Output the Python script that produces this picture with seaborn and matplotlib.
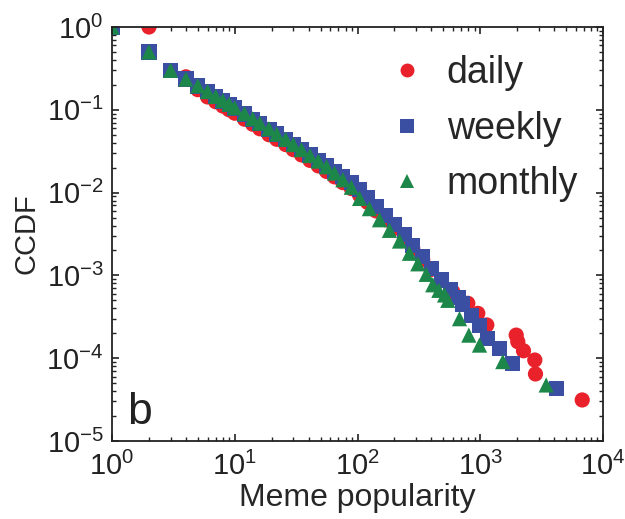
import matplotlib
matplotlib.use("Agg")
import matplotlib.pyplot as plt
from matplotlib.lines import Line2D
import pandas as pd
import seaborn as sns

# Complementary cumulative distribution of meme popularity
daily_x = [1, 2, 4, 5, 6, 7, 8, 9, 10, 12, 14, 16, 19, 22, 26, 30, 35, 41, 48,
           56, 65, 76, 89, 104, 121, 142, 169, 200, 241, 282, 340, 398, 481,
           597, 792, 955, 1131, 1963, 2023, 2250, 2782, 2818, 6770]
daily_y = [1.0, 1.0, 0.25, 0.175, 0.143, 0.125, 0.111, 0.100, 0.091, 0.077,
           0.067, 0.059, 0.050, 0.044, 0.038, 0.033, 0.0285, 0.0245, 0.021,
           0.018, 0.0155, 0.0132, 0.0112, 0.0093, 0.0076, 0.0060, 0.0047,
           0.0037, 0.0028, 0.0021, 0.00155, 0.00118, 0.00088, 0.000635,
           0.00046, 0.000348, 0.000252, 0.00019, 0.000158, 0.000123,
           0.000095, 0.0000645, 0.0000313]

weekly_x = [1, 2, 3, 4, 5, 6, 7, 8, 9, 10, 12, 14, 16, 19, 22, 26, 30, 35, 41,
            48, 56, 65, 76, 89, 104, 121, 142, 169, 200, 241, 282, 340, 398,
            481, 570, 668, 721, 844, 986, 1153, 1435, 1841, 4155]
weekly_y = [1.0, 0.50, 0.30, 0.235, 0.194, 0.165, 0.144, 0.128, 0.116, 0.105,
            0.089, 0.077, 0.068, 0.058, 0.051, 0.044, 0.038, 0.033, 0.0285,
            0.0245, 0.021, 0.018, 0.0155, 0.0131, 0.0108, 0.0087, 0.0068,
            0.0053, 0.0041, 0.0031, 0.0023, 0.00168, 0.00122, 0.00088,
            0.00068, 0.00054, 0.00045, 0.00033, 0.00025, 0.000174, 0.00013,
            0.000087, 0.0000433]

monthly_x = [1, 2, 3, 4, 5, 6, 7, 8, 9, 10, 12, 14, 16, 19, 22, 26, 30, 35, 41,
             48, 56, 65, 76, 89, 104, 125, 151, 182, 220, 265, 310, 363, 410,
             460, 512, 544, 678, 807, 986, 1527, 3445]
monthly_y = [1.0, 0.50, 0.30, 0.235, 0.195, 0.166, 0.145, 0.129, 0.117, 0.106,
             0.090, 0.078, 0.069, 0.059, 0.051, 0.044, 0.038, 0.033, 0.028,
             0.024, 0.0205, 0.0172, 0.0143, 0.0116, 0.0085, 0.0064, 0.0047,
             0.0035, 0.0026, 0.00185, 0.00138, 0.00103, 0.00077, 0.00066,
             0.00058, 0.00050, 0.00030, 0.00019, 0.000144, 0.000091, 0.0000475]

periods = ["daily", "weekly", "monthly"]
colors = {"daily": "#e8212b", "weekly": "#3b4fa2", "monthly": "#1c8748"}
markers = {"daily": "o", "weekly": "s", "monthly": "^"}

frames = []
for name, xs, ys in [("daily", daily_x, daily_y),
                     ("weekly", weekly_x, weekly_y),
                     ("monthly", monthly_x, monthly_y)]:
    frames.append(pd.DataFrame({"popularity": xs, "ccdf": ys, "period": name}))
df = pd.concat(frames, ignore_index=True)

sns.set_theme(style="ticks")
plt.rcParams["font.family"] = ["Liberation Sans", "DejaVu Sans"]
plt.rcParams["mathtext.fontset"] = "custom"
plt.rcParams["mathtext.rm"] = "Liberation Sans"
plt.rcParams["mathtext.default"] = "regular"

fig = plt.figure(figsize=(6.25, 5.19), dpi=100)
ax = fig.add_axes([0.1792, 0.1503, 0.7856, 0.7977])

sns.scatterplot(data=df, x="popularity", y="ccdf", hue="period", style="period",
                hue_order=periods, style_order=periods, palette=colors,
                markers=markers, s=120, linewidth=0, alpha=1, legend=False, ax=ax)

ax.set_xscale("log")
ax.set_yscale("log")
ax.set_xlim(1, 1e4)
ax.set_ylim(1e-5, 1)

for side in ax.spines.values():
    side.set_linewidth(1.3)
    side.set_color("#222222")
ax.tick_params(which="both", direction="in", top=True, right=True,
               colors="#222222", labelcolor="#222222")
ax.tick_params(which="major", length=5, width=1.2, labelsize=21)
ax.tick_params(axis="x", which="major", pad=8)
ax.tick_params(axis="y", which="major", pad=6)
ax.tick_params(which="minor", length=3, width=1.0)

ax.set_xlabel("Meme popularity", fontsize=23, labelpad=1)
ax.set_ylabel("CCDF", fontsize=21, labelpad=4)

ax.text(0.03, 0.02, "b", transform=ax.transAxes, fontsize=32,
        ha="left", va="bottom", color="#222222")

handles = [Line2D([], [], linestyle="none", marker=markers[p], color=colors[p],
                  markersize=10, markeredgewidth=0) for p in periods]
ax.legend(handles, periods, loc="upper right", frameon=False, fontsize=27,
          handlelength=1.0, handletextpad=0.55, labelspacing=0.52,
          borderaxespad=0.0, bbox_to_anchor=(0.98, 0.968))

fig.savefig("out.png", dpi=100)
